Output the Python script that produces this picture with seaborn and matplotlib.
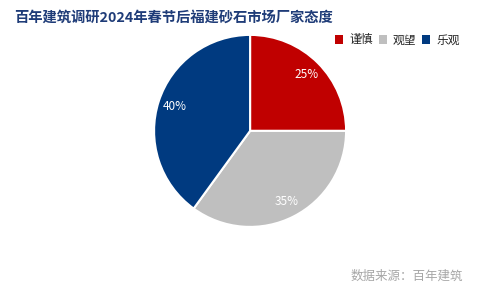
import matplotlib
matplotlib.use("Agg")
import matplotlib.pyplot as plt
import seaborn as sns
from matplotlib.patches import Patch

categories = ["谨慎", "观望", "乐观"]
values = [25, 35, 40]
colors = ["#C00000", "#BFBFBF", "#003A80"]
title = "百年建筑调研2024年春节后福建砂石市场厂家态度"
source = "数据来源：百年建筑"

sns.set_theme(style="white")
plt.rcParams['font.family'] = ['Noto Sans CJK SC', 'DejaVu Sans']

fig = plt.figure(figsize=(4.8, 2.88), dpi=100)
ax = fig.add_axes([0.321, 0.212, 0.4, 0.667])
palette = sns.color_palette(colors)
wedges, texts, autotexts = ax.pie(
    values, colors=palette, startangle=90, counterclock=False,
    autopct=lambda p: f"{p:.0f}%", pctdistance=0.83,
    wedgeprops=dict(edgecolor="white", linewidth=1.5),
    textprops=dict(color="white", fontsize=8.5))
ax.set_xlim(-1, 1)
ax.set_ylim(-1, 1)
ax.set_aspect("equal")

fig.text(14/480, 1 - 18/288, title, fontsize=10.3, fontweight="bold",
         color="#1F3C78", ha="left", va="center")

handles = [Patch(facecolor=c, edgecolor="none") for c in colors]
fig.legend(handles, categories, loc="center left", bbox_to_anchor=(335/480, 1 - 40/288),
           ncol=3, frameon=False, fontsize=8.5, handlelength=0.7, handleheight=0.7,
           handletextpad=0.5, columnspacing=0.5, borderaxespad=0, borderpad=0)

fig.text(463/480, 1 - 276/288, source, fontsize=9, color="#A6A6A6",
         ha="right", va="center")

fig.savefig("out.png", dpi=100, facecolor="white")
